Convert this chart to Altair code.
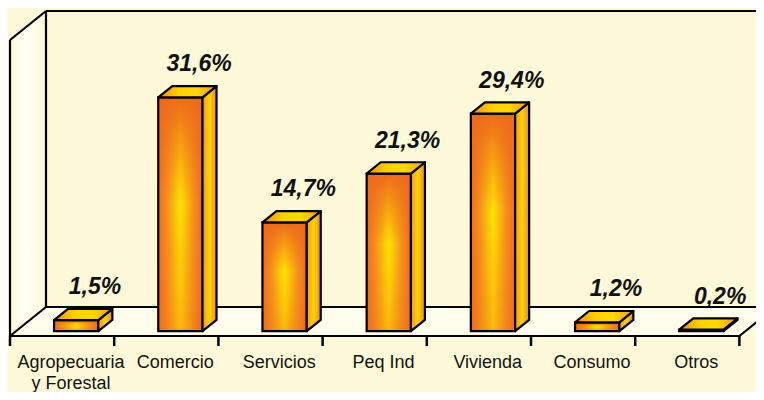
import altair as alt
import pandas as pd

categories = ["Agropecuaria\ny Forestal", "Comercio", "Servicios", "Peq Ind",
              "Vivienda", "Consumo", "Otros"]
values = [1.5, 31.6, 14.7, 21.3, 29.4, 1.2, 0.2]
value_labels = ["1,5%", "31,6%", "14,7%", "21,3%", "29,4%", "1,2%", "0,2%"]

# layout (pixels -> data units)
W, H = 748, 384
PX_U = 104.2          # px per category slot
PX_V = 7.4            # px per percent
X0, Y0 = 2, 328       # chart px of (u=0, v=0)
YMAX = 40
DU, DV = 36 / PX_U, 29 / PX_V      # floor depth
ZF, ZB = 0.167, 0.556              # bar depth (fraction of floor)
A, B = 0.365, 0.79                 # bar front extent inside slot
N = len(categories)

BG = "#FEF9D8"
ORANGE = "#EE6A1C"
YELLOW = "#FFE400"

xs = alt.Scale(domain=[-X0 / PX_U, (W - X0) / PX_U], nice=False, zero=False)
ys = alt.Scale(domain=[(Y0 - H) / PX_V, Y0 / PX_V], nice=False, zero=False)

def X(f="x"):
    return alt.X(f"{f}:Q", scale=xs, axis=None)

def Y(f="y"):
    return alt.Y(f"{f}:Q", scale=ys, axis=None)

def grad(stops, vertical=False):
    return alt.Gradient(
        gradient="linear",
        stops=[alt.GradientStop(color=c, offset=o) for o, c in stops],
        x1=0, y1=0, x2=0 if vertical else 1, y2=1 if vertical else 0)

# ---- frame ----
left_wall = pd.DataFrame({"x": [0, DU], "y": [YMAX, YMAX + DV], "y2": [0, DV]})
floor = pd.DataFrame({"x": [0, DU, N, N + DU],
                      "y": [0, DV, DV, DV], "y2": [0, 0, 0, DV]})
segs = [
    [(0, 0), (0, YMAX)],
    [(0, YMAX), (DU, YMAX + DV)],
    [(DU, DV), (DU, YMAX + DV)],
    [(DU, YMAX + DV), (N + 1, YMAX + DV)],
    [(DU, DV), (N + 1, DV)],
    [(0, 0), (DU, DV)],
    [(0, 0), (N, 0)],
    [(N, 0), (N + DU, DV)],
]
frame = pd.DataFrame([{"seg": i, "o": j, "x": p[0], "y": p[1]}
                      for i, s in enumerate(segs) for j, p in enumerate(s)])
ticks = pd.DataFrame({"x": list(range(N + 1)), "y": [0] * (N + 1),
                      "y2": [-10 / PX_V] * (N + 1)})

wall_l = alt.Chart(left_wall).mark_area(
    fill=grad([(0, BG), (0.45, "#FFFFF6"), (1, BG)])
).encode(x=X(), y=Y(), y2="y2:Q")
floor_c = alt.Chart(floor).mark_area(fill="#FFFDEC").encode(x=X(), y=Y(), y2="y2:Q")
frame_c = alt.Chart(frame).mark_line(color="black", strokeWidth=2.2).encode(
    x=X(), y=Y(), detail="seg:N", order="o:Q")
ticks_c = alt.Chart(ticks).mark_rule(color="black", strokeWidth=2.5).encode(
    x=X(), y=Y(), y2="y2:Q")

# ---- bars ----
front = pd.DataFrame({
    "x": [i + A + ZF * DU for i in range(N)],
    "x2": [i + B + ZF * DU for i in range(N)],
    "y": [ZF * DV] * N,
    "y2": [v + ZF * DV for v in values],
})
side_rows, top_rows = [], []
for i, v in enumerate(values):
    side_rows += [
        {"bar": i, "x": i + B + ZF * DU, "y": v + ZF * DV, "y2": ZF * DV},
        {"bar": i, "x": i + B + ZB * DU, "y": v + ZB * DV, "y2": ZB * DV},
    ]
    top_rows += [
        {"bar": i, "x": i + A + ZF * DU, "y": v + ZF * DV, "y2": v + ZF * DV},
        {"bar": i, "x": i + A + ZB * DU, "y": v + ZB * DV, "y2": v + ZF * DV},
        {"bar": i, "x": i + B + ZF * DU, "y": v + ZB * DV, "y2": v + ZF * DV},
        {"bar": i, "x": i + B + ZB * DU, "y": v + ZB * DV, "y2": v + ZB * DV},
    ]
side = pd.DataFrame(side_rows)
top = pd.DataFrame(top_rows)

front_fill = alt.Chart(front).mark_rect(
    fill=grad([(0, ORANGE), (0.22, "#F7951A"), (0.5, YELLOW), (0.78, "#F7951A"), (1, ORANGE)])
).encode(x=X(), x2="x2:Q", y=Y(), y2="y2:Q")
front_shade = alt.Chart(front).mark_rect(
    fill=grad([(0, ORANGE), (0.45, "rgba(238,106,28,0)"), (1, "rgba(238,106,28,0.35)")],
              vertical=True)
).encode(x=X(), x2="x2:Q", y=Y(), y2="y2:Q")
front_line = alt.Chart(front).mark_rect(
    fillOpacity=0, stroke="black", strokeWidth=2.2
).encode(x=X(), x2="x2:Q", y=Y(), y2="y2:Q")
side_c = alt.Chart(side).mark_area(
    fill=grad([(0, "#F39A1A"), (0.5, "#FFD400"), (1, "#F08A1E")]),
    stroke="black", strokeWidth=2.2, strokeJoin="round"
).encode(x=X(), y=Y(), y2="y2:Q", detail="bar:N")
top_c = alt.Chart(top).mark_area(
    fill=grad([(0, "#F28A1E"), (0.35, "#FFD000"), (0.65, "#FFD800"), (1, "#F39A1A")]),
    stroke="black", strokeWidth=2.2, strokeJoin="round"
).encode(x=X(), y=Y(), y2="y2:Q", detail="bar:N")

# ---- labels ----
vlab = pd.DataFrame({"x": [i + 0.815 for i in range(N)],
                     "y": [v + ZF * DV for v in values],
                     "t": value_labels})
clab = pd.DataFrame({"x": [i + 0.585 for i in range(N)], "y": [0] * N,
                     "t": categories})
vlab_c = alt.Chart(vlab).mark_text(
    font="Liberation Sans", fontSize=23, fontWeight="bold", fontStyle="italic",
    color="#111111", baseline="alphabetic", align="center", dy=-26
).encode(x=X(), y=Y(), text="t:N")
clab_c = alt.Chart(clab).mark_text(
    font="Liberation Sans", fontSize=18, color="#111111", baseline="alphabetic",
    align="center", dy=32, lineBreak="\n", lineHeight=21
).encode(x=X(), y=Y(), text="t:N")

chart = alt.layer(
    wall_l, floor_c, frame_c, ticks_c,
    front_fill, front_shade, front_line, side_c, top_c,
    vlab_c, clab_c
).properties(
    width=W, height=H, background=BG, padding=0, autosize="none"
).configure_view(stroke=None)

chart.save("out.html", embed_options={"renderer": "svg", "actions": False})
